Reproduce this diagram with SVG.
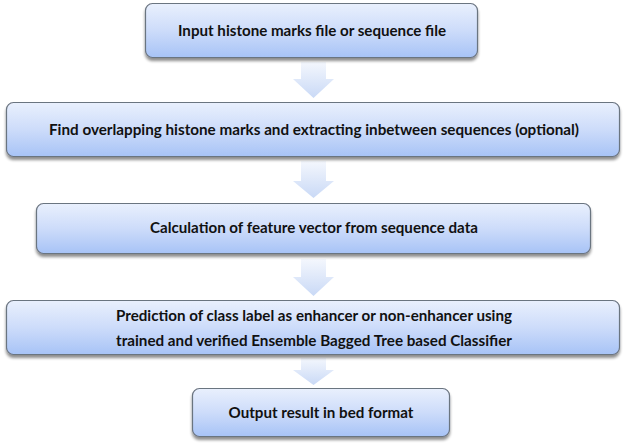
<svg xmlns="http://www.w3.org/2000/svg" width="625" height="446" viewBox="0 0 625 446">
<defs>
<linearGradient id="boxg" x1="0" y1="0" x2="0" y2="1">
<stop offset="0" stop-color="#e9f0fd"/>
<stop offset="0.5" stop-color="#cddcfa"/>
<stop offset="1" stop-color="#a7c3f6"/>
</linearGradient>
<linearGradient id="arrg" x1="0" y1="0" x2="0" y2="1">
<stop offset="0" stop-color="#f4f7fd"/>
<stop offset="1" stop-color="#c9d9f6"/>
</linearGradient>
<filter id="sh" x="-5%" y="-20%" width="110%" height="150%">
<feGaussianBlur in="SourceAlpha" stdDeviation="1.5"/>
<feOffset dx="0" dy="2.5" result="b"/>
<feComponentTransfer><feFuncA type="linear" slope="0.45"/></feComponentTransfer>
<feMerge><feMergeNode/><feMergeNode in="SourceGraphic"/></feMerge>
</filter>
</defs>
<style>
.box{fill:url(#boxg);stroke:#6b7480;stroke-width:1.2;filter:url(#sh)}
.lbl{font-family:Lato,"Open Sans","Liberation Sans",sans-serif;font-weight:bold;font-size:15px;fill:#111;text-anchor:middle}
.arr{fill:url(#arrg);stroke:none}
</style>
<g id="connectors">
<path class="arr" d="M301,62 H326 V79 H334 L313.5,98 L293,79 H301 Z"/>
<path class="arr" d="M301,161 H326 V181 H334 L313.5,198 L293,181 H301 Z"/>
<path class="arr" d="M301,259 H326 V277 H334 L313.5,296 L293,277 H301 Z"/>
<path class="arr" d="M301,358 H326 V370 H334 L313.5,385 L293,370 H301 Z"/>
</g>
<g id="n1">
<rect class="box" x="145.5" y="3.5" width="332" height="54" rx="7"/>
<text class="lbl" x="312" y="36" textLength="268" lengthAdjust="spacingAndGlyphs">Input histone marks file or sequence file</text>
</g>
<g id="n2">
<rect class="box" x="6.5" y="102.5" width="613" height="54" rx="7"/>
<text class="lbl" x="314" y="135" textLength="530" lengthAdjust="spacingAndGlyphs">Find overlapping histone marks and extracting inbetween sequences (optional)</text>
</g>
<g id="n3">
<rect class="box" x="36.5" y="203.5" width="554" height="50" rx="7"/>
<text class="lbl" x="314" y="233" textLength="328" lengthAdjust="spacingAndGlyphs">Calculation of feature vector from sequence data</text>
</g>
<g id="n4">
<rect class="box" x="6.5" y="300.5" width="613" height="54" rx="7"/>
<text class="lbl" x="314" y="321" textLength="396" lengthAdjust="spacingAndGlyphs">Prediction of class label as enhancer or non-enhancer using</text>
<text class="lbl" x="314" y="346" textLength="396" lengthAdjust="spacingAndGlyphs">trained and verified Ensemble Bagged Tree based Classifier</text>
</g>
<g id="n5">
<rect class="box" x="192.5" y="388.5" width="257" height="48" rx="7"/>
<text class="lbl" x="321" y="418" textLength="185" lengthAdjust="spacingAndGlyphs">Output result in bed format</text>
</g>
</svg>
